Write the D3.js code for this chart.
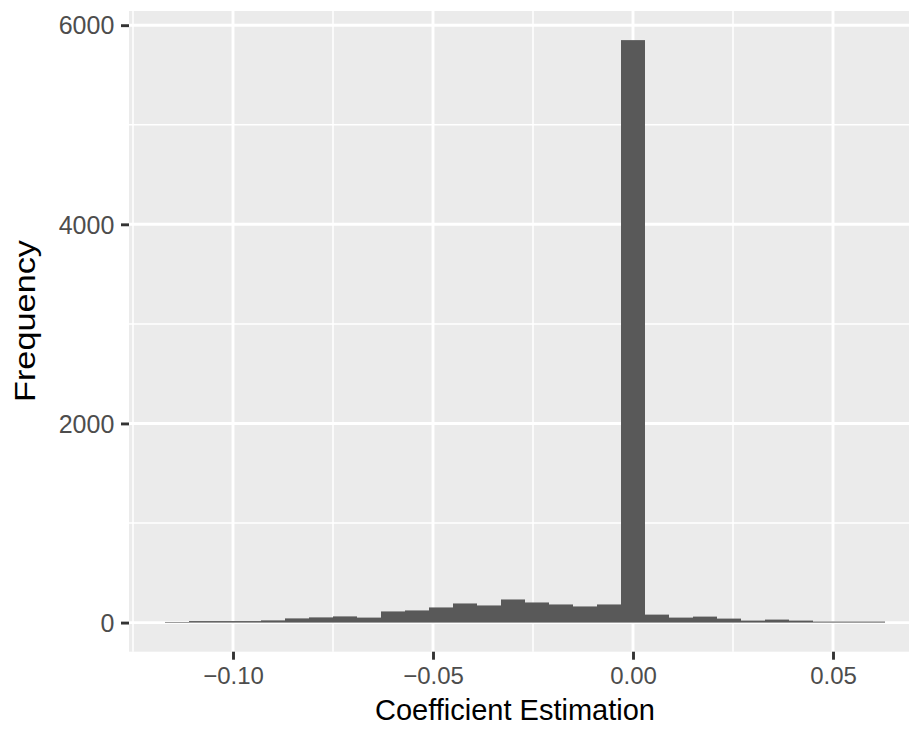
<!DOCTYPE html>
<html>
<head>
<meta charset="utf-8">
<script src="https://cdn.jsdelivr.net/npm/d3@7"></script>
<style>
  html, body { margin: 0; padding: 0; background: #ffffff; }
  svg { display: block; font-family: "Liberation Sans", Arial, Helvetica, sans-serif; }
</style>
</head>
<body>
<svg id="chart" width="909" height="729"></svg>
<script>
// Histogram of coefficient estimates: 30 bins of width 0.006
const binStart = -0.117;
const binWidth = 0.006;
const binCounts = [6, 15, 15, 15, 22, 42, 52, 62, 50, 112,
                   122, 152, 192, 172, 232, 202, 182, 162, 182, 5850,
                   80, 50, 60, 40, 20, 30, 20, 10, 10, 10];

const xTickValues = [-0.10, -0.05, 0.00, 0.05];
const xTickLabels = ["\u22120.10", "\u22120.05", "0.00", "0.05"];
const xMinorValues = [-0.125, -0.075, -0.025, 0.025, 0.075];
const yTickValues = [0, 2000, 4000, 6000];
const yTickLabels = ["0", "2000", "4000", "6000"];
const yMinorValues = [1000, 3000, 5000];

const xTitle = "Coefficient Estimation";
const yTitle = "Frequency";

const bins = binCounts.map((count, i) => ({
  x0: binStart + i * binWidth,
  x1: binStart + (i + 1) * binWidth,
  count
}));

const svg = d3.select("#chart");
const panel = { left: 129, right: 921, top: 11, bottom: 651.7 };

// ggplot-style 5% expansion of both scales
const xLo = d3.min(bins, d => d.x0), xHi = d3.max(bins, d => d.x1);
const xPad = (xHi - xLo) * 0.05;
const x = d3.scaleLinear().domain([xLo - xPad, xHi + xPad]).range([panel.left, panel.right]);
const yMax = d3.max(bins, d => d.count);
const y = d3.scaleLinear().domain([-0.05 * yMax, 1.05 * yMax]).range([panel.bottom, panel.top]);

// panel background
svg.append("rect")
  .attr("x", panel.left).attr("y", panel.top)
  .attr("width", panel.right - panel.left).attr("height", panel.bottom - panel.top)
  .attr("fill", "#EBEBEB");

const grid = svg.append("g");
// minor grid
grid.selectAll("line.xmin").data(xMinorValues.filter(v => x(v) >= panel.left && x(v) <= panel.right)).join("line")
  .attr("x1", d => x(d)).attr("x2", d => x(d))
  .attr("y1", panel.top).attr("y2", panel.bottom)
  .attr("stroke", "#ffffff").attr("stroke-width", 1.5);
grid.selectAll("line.ymin").data(yMinorValues).join("line")
  .attr("x1", panel.left).attr("x2", panel.right)
  .attr("y1", d => y(d)).attr("y2", d => y(d))
  .attr("stroke", "#ffffff").attr("stroke-width", 1.5);
// major grid
grid.selectAll("line.xmaj").data(xTickValues).join("line")
  .attr("x1", d => x(d)).attr("x2", d => x(d))
  .attr("y1", panel.top).attr("y2", panel.bottom)
  .attr("stroke", "#ffffff").attr("stroke-width", 2.9);
grid.selectAll("line.ymaj").data(yTickValues).join("line")
  .attr("x1", panel.left).attr("x2", panel.right)
  .attr("y1", d => y(d)).attr("y2", d => y(d))
  .attr("stroke", "#ffffff").attr("stroke-width", 2.9);

// bars
svg.append("g").selectAll("rect").data(bins).join("rect")
  .attr("x", d => x(d.x0))
  .attr("width", d => x(d.x1) - x(d.x0))
  .attr("y", d => y(d.count))
  .attr("height", d => y(0) - y(d.count))
  .attr("fill", "#595959");

// x axis
const xAxis = d3.axisBottom(x).tickValues(xTickValues)
  .tickFormat((d, i) => xTickLabels[i]).tickSize(8).tickPadding(6);
const gx = svg.append("g").attr("transform", `translate(0,${panel.bottom})`).call(xAxis);
gx.select(".domain").remove();
gx.selectAll(".tick line").attr("stroke", "#333333").attr("stroke-width", 2.9);
gx.selectAll(".tick text").attr("fill", "#4D4D4D").attr("font-size", 24)
  .attr("y", null).attr("dy", null).attr("transform", "translate(0,32.6)");

// y axis
const yAxis = d3.axisLeft(y).tickValues(yTickValues)
  .tickFormat((d, i) => yTickLabels[i]).tickSize(8).tickPadding(6.7);
const gy = svg.append("g").attr("transform", `translate(${panel.left},0)`).call(yAxis);
gy.select(".domain").remove();
gy.selectAll(".tick line").attr("stroke", "#333333").attr("stroke-width", 2.9);
gy.selectAll(".tick text").attr("fill", "#4D4D4D").attr("font-size", 25)
  .attr("dy", "0.35em");

// axis titles
svg.append("text")
  .attr("x", 515).attr("y", 719.5)
  .attr("text-anchor", "middle")
  .attr("font-size", 29).attr("fill", "#000000")
  .text(xTitle);

svg.append("text")
  .attr("transform", "translate(35,321) rotate(-90)")
  .attr("text-anchor", "middle")
  .attr("font-size", 30).attr("fill", "#000000")
  .attr("textLength", 162).attr("lengthAdjust", "spacingAndGlyphs")
  .text(yTitle);
</script>
</body>
</html>
